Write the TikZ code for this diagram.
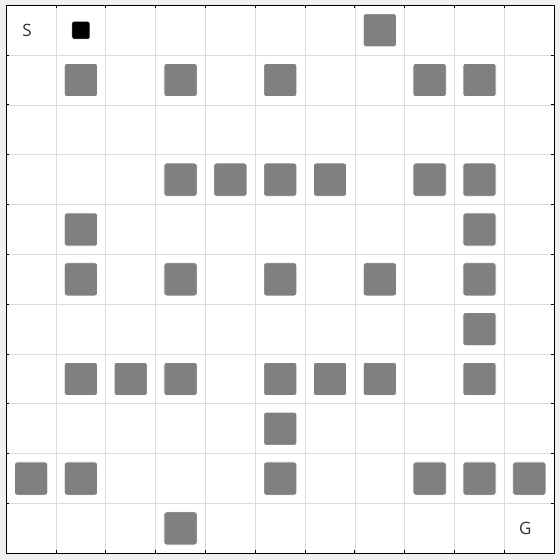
\documentclass[tikz,border=0pt]{standalone}
\usepackage{fontspec}
\setmainfont{Open Sans}
\definecolor{bgout}{HTML}{F0F0F0}
\definecolor{gridc}{HTML}{DCDCDC}
\definecolor{obst}{HTML}{808080}
\definecolor{txt}{HTML}{333333}
\tikzset{
  obstacle/.style={fill=obst,draw=white,line width=0.8pt,rounded corners=2.5pt},
  agent/.style={fill=black,draw=white,line width=0.6pt,rounded corners=2pt},
  gridline/.style={draw=gridc,line width=0.8pt},
  tick/.style={draw=black,line width=0.9pt},
  label/.style={text=txt,font=\fontsize{17}{17}\selectfont,inner sep=0pt}
}
\begin{document}
\begin{tikzpicture}[x=1pt,y=-1pt]
\useasboundingbox (0,0) rectangle (560,560);
\fill[bgout] (0,0) rectangle (560,560);
\def\xo{6.2}\def\yo{5.3}\def\cs{49.82}
\fill[white] (\xo,\yo) rectangle ({\xo+11*\cs},{\yo+11*\cs});
\foreach \i in {1,...,10}{
  \draw[gridline] ({\xo+\i*\cs},\yo) -- ({\xo+\i*\cs},{\yo+11*\cs});
  \draw[gridline] (\xo,{\yo+\i*\cs}) -- ({\xo+11*\cs},{\yo+\i*\cs});
}
% obstacles: col/row
\foreach \c/\r in {7/0,
  1/1,3/1,5/1,8/1,9/1,
  3/3,4/3,5/3,6/3,8/3,9/3,
  1/4,9/4,
  1/5,3/5,5/5,7/5,9/5,
  9/6,
  1/7,2/7,3/7,5/7,6/7,7/7,9/7,
  5/8,
  0/9,1/9,5/9,8/9,9/9,10/9,
  3/10}{
  \draw[obstacle] ({\xo+(\c+0.5)*\cs-16.6},{\yo+(\r+0.5)*\cs-16.6}) rectangle ++(33.2,33.2);
}
\draw[agent] ({\xo+1.5*\cs-9},{\yo+0.5*\cs-9}) rectangle ++(18,18);
\node[label] (S) at ({\xo+0.5*\cs-4},{\yo+0.5*\cs}) {S};
\node[label] (G) at ({\xo+10.5*\cs-4},{\yo+10.5*\cs}) {G};
% frame
\draw[black,line width=0.9pt] (\xo,\yo) rectangle ({\xo+11*\cs},{\yo+11*\cs});
\foreach \i in {1,...,10}{
  \draw[tick] ({\xo+\i*\cs},\yo) -- ++(0,3);
  \draw[tick] ({\xo+\i*\cs},{\yo+11*\cs}) -- ++(0,-3);
  \draw[tick] (\xo,{\yo+\i*\cs}) -- ++(3,0);
  \draw[tick] ({\xo+11*\cs},{\yo+\i*\cs}) -- ++(-3,0);
}
\end{tikzpicture}
\end{document}
